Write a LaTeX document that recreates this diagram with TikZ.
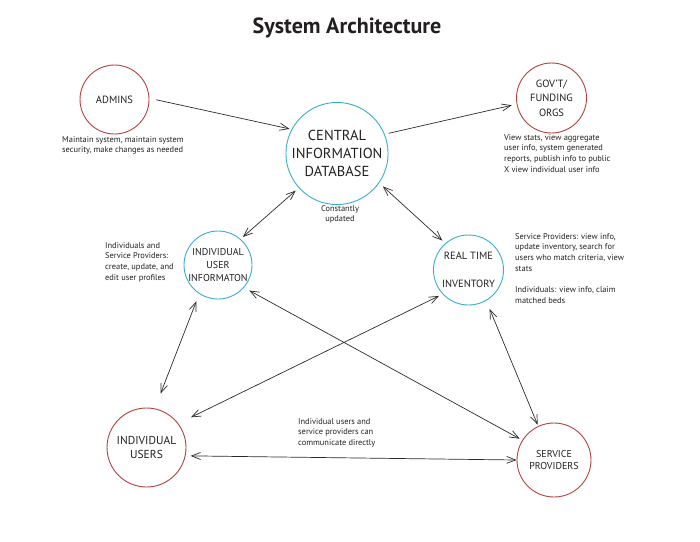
\documentclass[tikz,border=0pt]{standalone}
\usepackage{fontspec}
\setmainfont{PT Sans}
\usetikzlibrary{arrows.meta, positioning}
\definecolor{ink}{HTML}{231F20}
\definecolor{actorred}{HTML}{B5403F}
\definecolor{storeblue}{HTML}{38ADCF}
\definecolor{wire}{HTML}{2B2B2B}

\begin{document}
\begin{tikzpicture}[x=1pt, y=-1pt,
  actor/.style={circle, draw=actorred, line width=0.9pt, inner sep=0pt, align=center,
    text=ink, font=\fontsize{10.5}{14.5}\selectfont},
  store/.style={circle, draw=storeblue, line width=0.9pt, inner sep=0pt, align=center,
    text=ink, font=\fontsize{10}{12.7}\selectfont},
  note/.style={inner sep=0pt, align=left, text=ink, font=\fontsize{8.4}{10.8}\selectfont},
  arr/.style={-{Straight Barb[length=9pt, width=7pt]}, color=wire, line width=0.7pt},
  both/.style={{Straight Barb[length=9pt, width=7pt]}-{Straight Barb[length=9pt, width=7pt]},
    color=wire, line width=0.7pt}]

  \useasboundingbox (0,0) rectangle (700,541);

  \node[font=\fontsize{22}{25}\selectfont\bfseries, text=ink] (title) at (347,28) {System Architecture};

  % circles
  \node[actor, minimum size=69pt] (admins) at (114.5,99.5) {ADMINS};
  \node[store, minimum size=100pt, font=\fontsize{14.5}{18.3}\selectfont] (central) at (337,153.5)
    {CENTRAL\\INFORMATION\\DATABASE};
  \node[actor, minimum size=70pt] (govt) at (551.5,98) {GOV'T/\\FUNDING\\ORGS};
  \node[store, minimum size=68pt] (userinfo) at (218,265) {INDIVIDUAL\\USER\\INFORMATON};
  \node[store, minimum size=70pt, font=\fontsize{10.5}{14}\selectfont] (inventory) at (468.5,270)
    {REAL TIME\\[14pt]INVENTORY};
  \node[actor, minimum size=79pt, font=\fontsize{11.5}{14}\selectfont] (users) at (146.5,447.5)
    {INDIVIDUAL\\USERS};
  \node[actor, minimum size=74pt, font=\fontsize{10}{12.7}\selectfont] (providers) at (554,460)
    {SERVICE\\PROVIDERS};

  % notes
  \node[note, anchor=north west] (adminsnote) at (62,136)
    {Maintain system, maintain system\\security, make changes as needed};
  \node[note, anchor=north, align=center] (centralnote) at (340,205) {Constantly\\updated};
  \node[note, anchor=north west] (govtnote) at (504,134)
    {View stats, view aggregate\\user info, system generated\\reports, publish info to public\\X view individual user info};
  \node[note, anchor=north west] (userinfonote) at (105,242)
    {Individuals and\\Service Providers:\\create, update, and\\edit user profiles};
  \node[note, anchor=north west] (inventorynote) at (515,233)
    {Service Providers: view info,\\update inventory, search for\\users who match criteria, view\\stats\\[10.5pt]Individuals: view info, claim\\matched beds};
  \node[note, anchor=north west] (commnote) at (298,418)
    {Individual users and\\service providers can\\communicate directly};

  % connectors
  \draw[arr, shorten <=7pt, shorten >=2pt] (admins.2) -- (central.152);
  \draw[arr, shorten <=4pt, shorten >=5pt] (central.22) -- (govt.190);
  \draw[both, shorten <=4pt, shorten >=3pt] (central.222) -- (userinfo.49);
  \draw[both, shorten <=5pt, shorten >=4pt] (central.325) -- (inventory.131);
  \draw[both, shorten <=8pt, shorten >=16pt] (userinfo.237) -- (users.78);
  \draw[both, shorten <=4pt, shorten >=14pt] (inventory.223) -- (users.37);
  \draw[both, shorten <=6pt, shorten >=3pt] (userinfo.319) -- (providers.148);
  \draw[both, shorten <=9pt, shorten >=1.5pt] (inventory.300) -- (providers.115);
  \draw[both, shorten <=5pt, shorten >=0pt] (users.348) -- (providers.180);
\end{tikzpicture}
\end{document}
